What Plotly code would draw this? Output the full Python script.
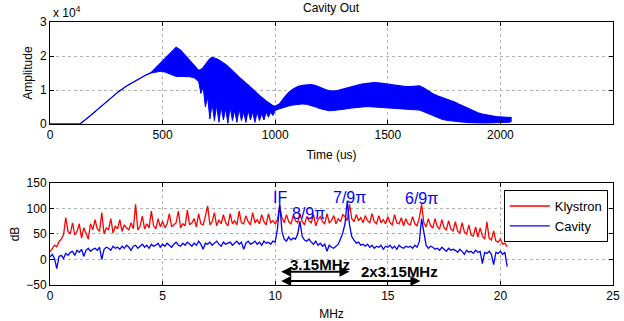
import plotly.graph_objects as go

# ---------------- Top panel: Cavity Out envelope (units of 1e4) ----------------
time_us = [0, 133, 180, 220, 260, 300, 340, 380, 420, 450, 470, 490, 510, 530, 550, 560,
           580, 600, 620, 640, 660, 670, 680, 690, 700, 710, 720, 730, 740, 750, 760, 770,
           780, 790, 800, 810, 820, 830, 840, 850, 860, 870, 880, 890, 900, 910, 920, 930,
           940, 950, 960, 970, 980, 990, 1000, 1020, 1040, 1060, 1080, 1100, 1120, 1140,
           1160, 1180, 1200, 1220, 1240, 1260, 1280, 1300, 1320, 1340, 1360, 1380, 1400,
           1420, 1440, 1460, 1480, 1500, 1520, 1540, 1560, 1580, 1600, 1620, 1640, 1660,
           1680, 1700, 1720, 1740, 1760, 1780, 1800, 1820, 1840, 1860, 1880, 1900, 1920,
           1940, 1960, 1980, 2000, 2020, 2040, 2050]
amp_upper = [0, 0, 0.25, 0.48, 0.72, 0.93, 1.12, 1.28, 1.42, 1.52, 1.65, 1.78, 1.92, 2.06, 2.20, 2.26,
             2.17, 2.02, 1.86, 1.70, 1.58, 1.60, 1.66, 1.75, 1.84, 1.92, 1.96, 1.95, 1.92, 1.88, 1.84, 1.80,
             1.75, 1.69, 1.62, 1.56, 1.50, 1.44, 1.38, 1.31, 1.25, 1.20, 1.15, 1.08, 1.02, 0.96, 0.90, 0.84,
             0.78, 0.73, 0.68, 0.63, 0.58, 0.54, 0.52, 0.60, 0.78, 0.93, 1.03, 1.10, 1.14, 1.16,
             1.16, 1.13, 1.07, 1.02, 0.98, 0.97, 0.99, 1.03, 1.07, 1.11, 1.14, 1.17, 1.19,
             1.21, 1.22, 1.21, 1.19, 1.16, 1.14, 1.12, 1.11, 1.10, 1.10, 1.11, 1.12, 1.06,
             0.97, 0.89, 0.83, 0.78, 0.74, 0.70, 0.64, 0.57, 0.51, 0.44, 0.38, 0.33, 0.29,
             0.26, 0.24, 0.22, 0.21, 0.20, 0.20, 0.19]
amp_lower = [0, 0, 0.25, 0.48, 0.72, 0.93, 1.12, 1.28, 1.42, 1.50, 1.53, 1.55, 1.53, 1.48, 1.42, 1.40,
             1.40, 1.40, 1.39, 1.36, 1.25, 0.90, 1.10, 0.50, 0.80, 0.15, 0.60, 0.10, 0.55, 0.05, 0.50, 0.12,
             0.45, 0.02, 0.50, 0.10, 0.40, 0.05, 0.45, 0.10, 0.35, 0.05, 0.40, 0.12, 0.35, 0.05, 0.35, 0.10,
             0.30, 0.12, 0.35, 0.20, 0.35, 0.25, 0.40, 0.45, 0.50, 0.53, 0.56, 0.58, 0.59, 0.58,
             0.55, 0.50, 0.45, 0.41, 0.39, 0.40, 0.41, 0.43, 0.45, 0.47, 0.49, 0.50, 0.51,
             0.51, 0.50, 0.49, 0.47, 0.46, 0.45, 0.45, 0.44, 0.43, 0.43, 0.42, 0.41, 0.36,
             0.30, 0.24, 0.18, 0.14, 0.11, 0.09, 0.07, 0.06, 0.05, 0.04, 0.03, 0.03, 0.03,
             0.03, 0.03, 0.03, 0.03, 0.04, 0.05, 0.08]

# ---------------- Bottom panel: spectra (dB), 0.1 MHz spacing ----------------
klystron_db = (
    [15, 22, 28, 25, 35, 40, 48, 82, 55, 50] +
    [72, 48, 55, 70, 42, 62, 50, 40, 70, 58] +
    [78, 60, 55, 92, 50, 62, 58, 80, 52, 65] +
    [60, 78, 55, 68, 62, 58, 72, 60, 108, 58] +
    [65, 85, 60, 70, 62, 95, 66, 60, 80, 64] +
    [75, 62, 70, 90, 64, 68, 72, 95, 62, 70] +
    [66, 97, 68, 72, 80, 64, 90, 70, 68, 85] +
    [105, 68, 74, 92, 66, 78, 70, 88, 72, 66] +
    [90, 70, 76, 68, 95, 72, 70, 86, 74, 68] +
    [92, 72, 78, 70, 88, 74, 68, 90, 72, 76] +
    [70, 78, 105, 82, 72, 88, 74, 70, 86, 76] +
    [72, 90, 74, 68, 84, 76, 72, 88, 66, 78] +
    [84, 74, 70, 90, 72, 76, 86, 70, 80, 74] +
    [88, 84, 76, 108, 80, 74, 88, 76, 82, 72] +
    [86, 76, 72, 90, 74, 70, 86, 72, 78, 70] +
    [84, 72, 68, 88, 72, 70, 82, 66, 80, 70] +
    [68, 84, 70, 66, 82, 108, 72, 64, 80, 66] +
    [62, 80, 64, 60, 78, 62, 58, 76, 60, 56] +
    [74, 56, 52, 72, 54, 50, 68, 48, 46, 64] +
    [44, 62, 46, 40, 74, 42, 38, 56, 36, 34] +
    [40, 30, 32, 25]
)
cavity_db = (
    [5, 10, 2, -18, 6, 8, 2, 12, 8, 14] +
    [16, 8, 18, 14, 20, 6, 18, 22, 16, 20] +
    [22, 18, 24, 0, 20, 24, 22, 18, 26, 22] +
    [24, 20, 26, 22, 28, 24, 18, 26, 28, 22] +
    [26, 30, 24, 28, 22, 30, 26, 28, 32, 24] +
    [30, 26, 32, 28, 24, 30, 34, 28, 26, 32] +
    [28, 34, 30, 26, 32, 28, 36, 30, 20, 32] +
    [30, 34, 28, 32, 36, 30, 26, 34, 30, 32] +
    [34, 28, 32, 36, 30, 34, 20, 32, 36, 30] +
    [32, 36, 30, 34, 28, 36, 32, 34, 30, 36] +
    [34, 60, 110, 55, 40, 36, 44, 38, 42, 40] +
    [50, 75, 45, 38, 36, 40, 34, 30, 36, 28] +
    [32, 26, 30, 16, 28, 24, 22, 26, 30, 40] +
    [52, 70, 115, 68, 45, 38, 32, 34, 28, 30] +
    [26, 30, 24, 28, 22, 26, 24, 28, 20, 26] +
    [24, 28, 22, 26, 20, 28, 24, 22, 26, 24] +
    [26, 22, 28, 24, 35, 80, 50, 28, 22, 26] +
    [24, 20, 22, 18, 24, 20, 16, 22, 18, 20] +
    [18, 14, 20, 16, 10, 18, 14, 16, 12, 18] +
    [14, 16, -8, 14, 12, 16, 10, -10, 14, 12] +
    [16, 10, 14, -14]
)
freq_mhz = [round(0.1 * i, 1) for i in range(len(klystron_db))]

# Mode labels and spacing markers
mode_labels = ["IF", "8/9π", "7/9π", "6/9π"]
mode_label_x = [10.2, 11.5, 13.3, 16.5]
mode_label_y = [122, 91, 122, 120]
if_freq = 10.2
spacing_end = [13.3, 16.45]
spacing_y = [-24, -42]
spacing_text = ["3.15MHz", "2x3.15MHz"]
spacing_text_x = [12.0, 15.5]
spacing_text_y = [-10, -24.5]

FONT = "Liberation Sans, Arial, sans-serif"
BLUE = "#0000ff"
RED = "#ff0000"

fig = go.Figure()

# Top: envelope band
fig.add_trace(go.Scatter(x=time_us, y=amp_lower, mode="lines",
                         line=dict(color=BLUE, width=1), showlegend=False,
                         xaxis="x", yaxis="y", hoverinfo="skip"))
fig.add_trace(go.Scatter(x=time_us, y=amp_upper, mode="lines", fill="tonexty",
                         fillcolor=BLUE, line=dict(color=BLUE, width=1.2),
                         showlegend=False, xaxis="x", yaxis="y"))

# Bottom: spectra
fig.add_trace(go.Scatter(x=freq_mhz, y=klystron_db, mode="lines", name="Klystron",
                         line=dict(color=RED, width=1.3), xaxis="x2", yaxis="y2"))
fig.add_trace(go.Scatter(x=freq_mhz, y=cavity_db, mode="lines", name="Cavity",
                         line=dict(color=BLUE, width=1.3), xaxis="x2", yaxis="y2"))

axis_common = dict(showline=True, linecolor="black", linewidth=1, mirror="ticks",
                   ticks="inside", ticklen=4, tickcolor="black", automargin=False,
                   showgrid=True, gridcolor="#b0b0b0", griddash="dot", gridwidth=1,
                   zeroline=False, tickfont=dict(family=FONT, size=12, color="black"))

fig.update_layout(
    width=624, height=321,
    margin=dict(l=50, r=11, t=22, b=36),
    paper_bgcolor="white", plot_bgcolor="white",
    font=dict(family=FONT, size=12, color="black"),
    xaxis=dict(axis_common, domain=[0, 1], range=[0, 2500], tickvals=[0, 500, 1000, 1500, 2000, 2500],
               anchor="y",
               title=dict(text="Time (us)", standoff=9, font=dict(size=12))),
    yaxis=dict(axis_common, domain=[0.612, 1.0], range=[0, 3], tickvals=[0, 1, 2, 3], anchor="x",
               title=dict(text="Amplitude", standoff=4, font=dict(size=12))),
    xaxis2=dict(axis_common, domain=[0, 1], range=[0, 25], tickvals=[0, 5, 10, 15, 20, 25],
                anchor="y2",
                title=dict(text="MHz", standoff=9, font=dict(size=12))),
    yaxis2=dict(axis_common, domain=[0, 0.388], range=[-50, 150], tickvals=[-50, 0, 50, 100, 150],
                anchor="x2",
                title=dict(text="dB", standoff=4, font=dict(size=12))),
    legend=dict(x=0.806, y=0.361, xanchor="left", yanchor="top",
                bordercolor="black", borderwidth=1, bgcolor="white",
                font=dict(family=FONT, size=13), tracegroupgap=0,
                traceorder="normal", itemwidth=40,
                entrywidth=60),
    showlegend=True,
)

annotations = [
    dict(text="Cavity Out", x=0.5, y=1.0, xref="paper", yref="paper", yshift=14,
         showarrow=False, font=dict(family=FONT, size=12), xanchor="center", yanchor="middle"),
    dict(text="x 10<sup>4</sup>", x=0.0, y=1.0, xref="paper", yref="paper", xshift=1, yshift=10,
         showarrow=False, font=dict(family=FONT, size=12), xanchor="left", yanchor="middle"),
]
for lbl, lx, ly in zip(mode_labels, mode_label_x, mode_label_y):
    annotations.append(dict(text=lbl, x=lx, y=ly, xref="x2", yref="y2", showarrow=False,
                            font=dict(family=FONT, size=16, color=BLUE),
                            xanchor="center", yanchor="middle"))
for xe, ye in zip(spacing_end, spacing_y):
    annotations.append(dict(text=" ", x=xe, y=ye, ax=if_freq, ay=ye, xref="x2", yref="y2",
                            axref="x2", ayref="y2", showarrow=True, arrowhead=2,
                            arrowside="end+start", arrowwidth=2, arrowsize=1, arrowcolor="black",
                            font=dict(size=1)))
for txt, tx, ty in zip(spacing_text, spacing_text_x, spacing_text_y):
    annotations.append(dict(text="<b>" + txt + "</b>", x=tx, y=ty, xref="x2", yref="y2",
                            showarrow=False, font=dict(family=FONT, size=15, color="black"),
                            xanchor="center", yanchor="middle"))
fig.update_layout(annotations=annotations)

fig.write_html("out.html", config={"displayModeBar": False},
               post_script="document.body.style.margin='0';document.body.style.overflow='hidden';")
